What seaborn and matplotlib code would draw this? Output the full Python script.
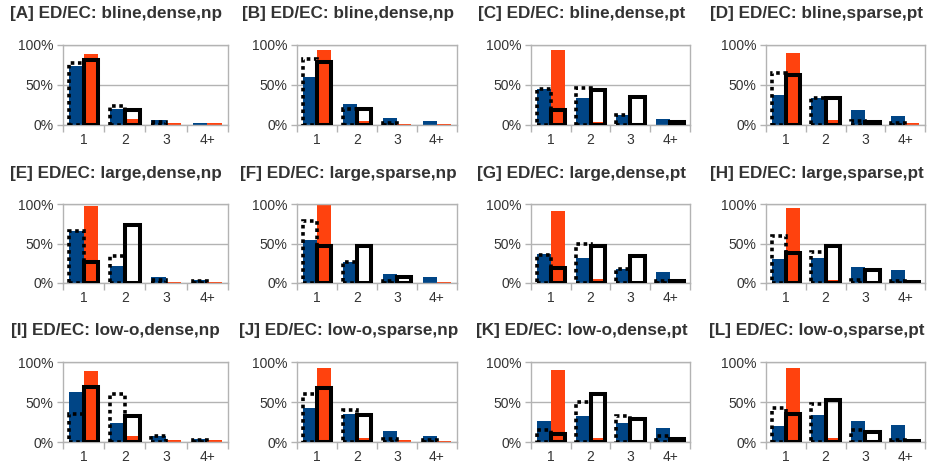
import numpy as np
import pandas as pd
import seaborn as sns
import matplotlib.pyplot as plt

titles = [
    '[A] ED/EC: bline,dense,np', '[B] ED/EC: bline,dense,np',
    '[C] ED/EC: bline,dense,pt', '[D] ED/EC: bline,sparse,pt',
    '[E] ED/EC: large,dense,np', '[F] ED/EC: large,sparse,np',
    '[G] ED/EC: large,dense,pt', '[H] ED/EC: large,sparse,pt',
    '[I] ED/EC: low-o,dense,np', '[J] ED/EC: low-o,sparse,np',
    '[K] ED/EC: low-o,dense,pt', '[L] ED/EC: low-o,sparse,pt',
]
cats = ['1', '2', '3', '4+']

# filled bars (percent)
blue = [[74, 20, 6, 2], [60, 26, 9, 5], [45, 34, 13, 7], [37, 34, 19, 11],
        [66, 22, 8, 4], [55, 26, 12, 8], [37, 32, 18, 14], [31, 32, 20, 17],
        [62, 24, 8, 4], [42, 35, 14, 8], [26, 32, 24, 17], [20, 34, 26, 21]]
orange = [[89, 7, 2, 2], [94, 5, 1, 1], [94, 4, 0, 0], [90, 6, 0, 3],
          [97, 0, 1, 1], [99, 0, 0, 1], [91, 5, 0, 0], [95, 4, 0, 0],
          [89, 8, 2, 2], [93, 5, 2, 1], [90, 5, 0, 0], [93, 5, 0, 0]]
# outline bars (percent)
dotted = [[78, 24, 4, 0], [83, 20, 3, 0], [45, 46, 13, 0], [65, 34, 5, 3],
          [66, 34, 4, 3], [78, 26, 2, 0], [35, 50, 18, 3], [59, 39, 4, 2],
          [35, 60, 8, 3], [60, 40, 4, 2], [15, 50, 32, 8], [42, 47, 15, 2]]
solid = [[81, 19, 0, 0], [79, 20, 0, 0], [19, 44, 35, 4], [62, 34, 4, 0],
         [26, 74, 0, 0], [47, 47, 7, 0], [19, 47, 34, 3], [38, 47, 16, 1],
         [69, 33, 0, 0], [67, 34, 0, 0], [10, 60, 29, 4], [35, 52, 13, 1]]

BLUE = '#004586'
ORANGE = '#ff420e'
GRID = '#b3b3b3'
TEXT = '#333333'

sns.set_theme(style='white')
plt.rcParams['font.family'] = ['Liberation Sans', 'DejaVu Sans']

fig = plt.figure(figsize=(9.28, 4.70), dpi=100)
W, H = 928, 470
row_top = [45, 204, 362]
row_bot = [125, 283, 442]
col_left = [63, 297, 531, 766]
col_right = [228, 457, 690, 925]

for i, title in enumerate(titles):
    r, c = divmod(i, 4)
    ax = fig.add_axes([col_left[c] / W, 1 - row_bot[r] / H,
                       (col_right[c] - col_left[c]) / W,
                       (row_bot[r] - row_top[r]) / H])

    filled = pd.DataFrame({
        'cat': cats * 2,
        'val': blue[i] + orange[i],
        'series': ['blue'] * 4 + ['orange'] * 4,
    })
    outline = pd.DataFrame({
        'cat': cats * 2,
        'val': [v if v > 0 else np.nan for v in dotted[i] + solid[i]],
        'series': ['dotted'] * 4 + ['solid'] * 4,
    })

    sns.barplot(data=filled, x='cat', y='val', hue='series', order=cats,
                hue_order=['blue', 'orange'],
                palette={'blue': BLUE, 'orange': ORANGE},
                width=0.72, linewidth=0, saturation=1, legend=False,
                errorbar=None, ax=ax)
    sns.barplot(data=outline, x='cat', y='val', hue='series', order=cats,
                hue_order=['dotted', 'solid'],
                palette={'dotted': 'black', 'solid': 'black'},
                width=0.72, fill=False, linewidth=2.4, saturation=1,
                legend=False, errorbar=None, ax=ax)

    # dotted outline / thick solid outline
    for p in ax.containers[2]:
        p.set_linestyle((0, (1, 1)))
        p.set_linewidth(2.6)
        p.set_joinstyle('miter')
        p.set_zorder(4)
    for p in ax.containers[3]:
        p.set_linewidth(2.9)
        p.set_joinstyle('miter')
        p.set_zorder(5)

    ax.set_xlim(-0.5, 3.5)
    ax.set_ylim(0, 100)
    ax.set_yticks([0, 50, 100])
    ax.set_yticklabels(['0%', '50%', '100%'])
    ax.set_xticks([-0.5, 0.5, 1.5, 2.5, 3.5], minor=True)
    ax.set_xlabel('')
    ax.set_ylabel('')
    ax.set_axisbelow(True)
    ax.yaxis.grid(True, color=GRID, linewidth=1)
    ax.xaxis.grid(False)
    for s in ax.spines.values():
        s.set_color(GRID)
        s.set_linewidth(1)
    ax.tick_params(axis='x', which='major', length=0, pad=6,
                   labelsize=10, labelcolor=TEXT)
    ax.tick_params(axis='x', which='minor', length=5, width=1, color=GRID,
                   direction='out', bottom=True)
    ax.tick_params(axis='y', length=4, width=1, color=GRID, direction='out',
                   left=True, pad=3, labelsize=10, labelcolor=TEXT)

    ax.text(0.32, 1.39, title, transform=ax.transAxes, ha='center',
            va='center', fontsize=12.3, fontweight='bold', color=TEXT)

fig.savefig('out.png', dpi=100)
